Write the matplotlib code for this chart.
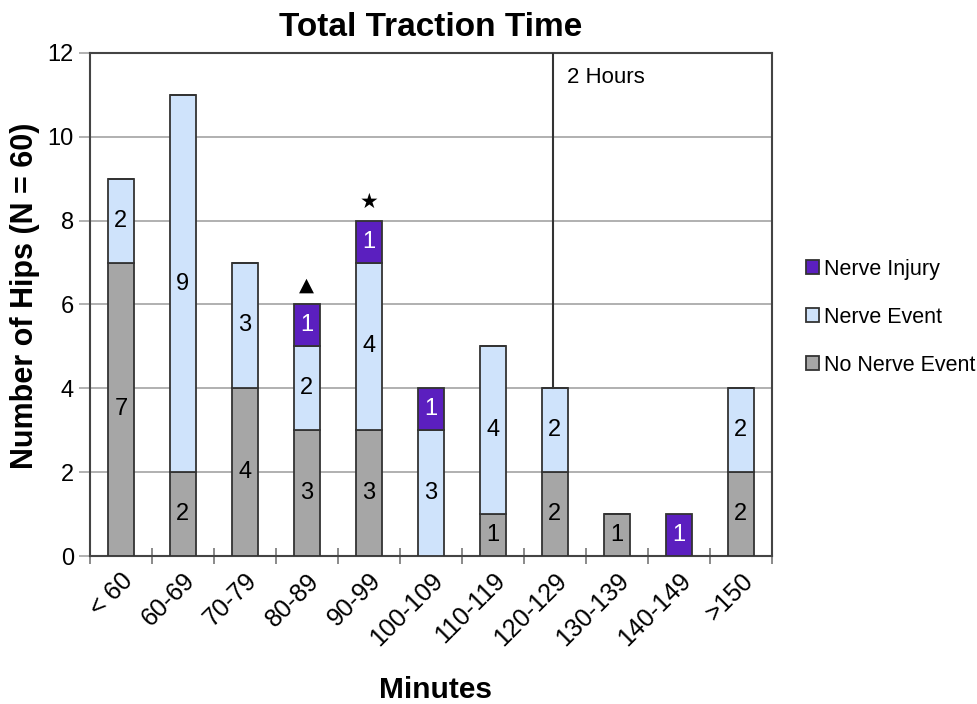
import matplotlib
matplotlib.use("Agg")
import matplotlib.pyplot as plt
import numpy as np

plt.rcParams["font.family"] = ["Liberation Sans", "DejaVu Sans"]

# ── Data ──────────────────────────────────────────────────────────────────────
categories   = ["< 60", "60-69", "70-79", "80-89", "90-99", "100-109",
                "110-119", "120-129", "130-139", "140-149", ">150"]
no_event     = [7, 2, 4, 3, 3, 0, 1, 2, 1, 0, 2]
nerve_event  = [2, 9, 3, 2, 4, 3, 4, 2, 0, 0, 2]
nerve_injury = [0, 0, 0, 1, 1, 1, 0, 0, 0, 1, 0]

C_GRAY   = "#a6a6a6"
C_BLUE   = "#cfe3fb"
C_PURPLE = "#5b1fbf"
EDGE     = "#333333"

fig = plt.figure(figsize=(9.77, 7.04), dpi=100)
ax = fig.add_axes([0.092, 0.210, 0.698, 0.715])

x = np.arange(len(categories))
w = 0.42
no_event = np.array(no_event)
nerve_event = np.array(nerve_event)
nerve_injury = np.array(nerve_injury)

b1 = ax.bar(x, no_event, w, color=C_GRAY, edgecolor=EDGE, linewidth=1.3,
            label="No Nerve Event", zorder=3)
b2 = ax.bar(x, nerve_event, w, bottom=no_event, color=C_BLUE, edgecolor=EDGE,
            linewidth=1.3, label="Nerve Event", zorder=3)
b3 = ax.bar(x, nerve_injury, w, bottom=no_event + nerve_event, color=C_PURPLE,
            edgecolor=EDGE, linewidth=1.3, label="Nerve Injury", zorder=3)

# segment labels
for vals, bottoms, col in [(no_event, np.zeros(len(x)), "black"),
                           (nerve_event, no_event, "black"),
                           (nerve_injury, no_event + nerve_event, "white")]:
    for i, (v, b) in enumerate(zip(vals, bottoms)):
        if v > 0:
            ax.text(i, b + v / 2, str(v), ha="center", va="center",
                    fontsize=17, color=col, zorder=4)

# markers above bars
tot = no_event + nerve_event + nerve_injury
ax.text(3, tot[3] + 0.45, "\u25B2", ha="center", va="center", fontsize=14,
        family=["DejaVu Sans"])
ax.text(4, tot[4] + 0.45, "\u2605", ha="center", va="center", fontsize=15,
        family=["DejaVu Sans"])

# 2 hour line
ax.plot([6.97, 6.97], [tot[7], 12], color="#333333", linewidth=1.5, zorder=4)
ax.text(7.2, 11.4, "2 Hours", fontsize=16, ha="left", va="center")

ax.set_xlim(-0.5, len(x) - 0.5)
ax.set_ylim(0, 12)
ax.set_yticks(range(0, 13, 2))
ax.yaxis.grid(True, color="#aaaaaa", linewidth=1.3, zorder=0)
ax.set_axisbelow(True)
ax.tick_params(axis="y", labelsize=17, length=8, color="#aaaaaa", width=1.3)

ax.set_xticks(x)
ax.set_xticklabels(categories, rotation=45, ha="right", rotation_mode="anchor",
                   fontsize=18)
ax.tick_params(axis="x", length=0, pad=9)
ax.set_xticks(np.arange(-0.5, len(x), 1.0), minor=True)
ax.tick_params(axis="x", which="minor", length=12, direction="inout",
               color="#777777", width=1.2)

for s in ax.spines.values():
    s.set_color("#444444")
    s.set_linewidth(1.5)

ax.set_title("Total Traction Time", fontsize=24, fontweight="bold", pad=12)
ax.set_ylabel("Number of Hips (N = 60)", fontsize=22, fontweight="bold")
ax.yaxis.set_label_coords(-0.073, 0.517)
fig.text(0.446, 0.02, "Minutes", fontsize=21.5, fontweight="bold",
         ha="center", va="center")

fig.legend(handles=[b3, b2, b1], labels=["Nerve Injury", "Nerve Event", "No Nerve Event"],
           loc="upper left", bbox_to_anchor=(0.805, 0.66), frameon=False,
           fontsize=15.5, handlelength=0.6, handleheight=0.6, handletextpad=0.25,
           labelspacing=1.25)

fig.savefig("out.png", dpi=100)
